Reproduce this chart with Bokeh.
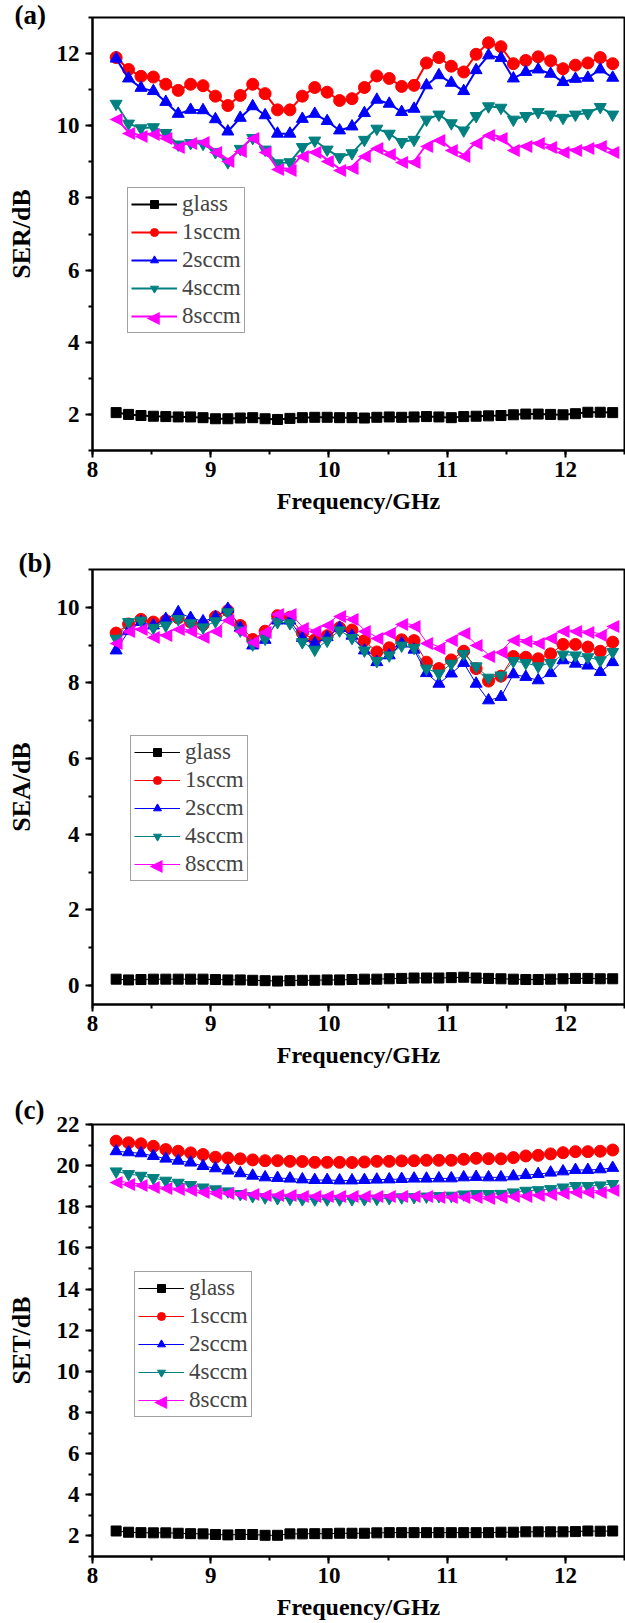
from bokeh.plotting import figure
from bokeh.layouts import column
from bokeh.models import (Legend, LegendItem, SingleIntervalTicker, Range1d,
                          ColumnDataSource, Title)
from bokeh.core.properties import value
from bokeh.embed import file_html
from bokeh.resources import INLINE

freq = [8.2, 8.305, 8.41, 8.515, 8.62, 8.725, 8.83, 8.935, 9.04, 9.145, 9.25,
        9.355, 9.46, 9.565, 9.67, 9.775, 9.88, 9.985, 10.09, 10.195, 10.3,
        10.405, 10.51, 10.615, 10.72, 10.825, 10.93, 11.035, 11.14, 11.245, 11.35,
        11.455, 11.56, 11.665, 11.77, 11.875, 11.98, 12.085, 12.19, 12.295, 12.4]

series_names = ["glass", "1sccm", "2sccm", "4sccm", "8sccm"]

# ---- (a) SE_R ----
ser_glass = [2.05, 2.00, 1.97, 1.95, 1.94, 1.93, 1.93, 1.91, 1.88, 1.88, 1.90,
             1.91, 1.88, 1.86, 1.89, 1.91, 1.92, 1.92, 1.91, 1.91, 1.90,
             1.92, 1.93, 1.92, 1.93, 1.94, 1.93, 1.91, 1.94, 1.95, 1.96,
             1.97, 1.99, 2.01, 2.01, 2.00, 1.99, 2.02, 2.06, 2.06, 2.05]
ser_1 = [11.89, 11.56, 11.37, 11.35, 11.15, 10.98, 11.15, 11.11, 10.82, 10.56, 10.84,
         11.15, 10.89, 10.44, 10.44, 10.82, 11.06, 10.93, 10.70, 10.75, 11.06,
         11.38, 11.31, 11.09, 11.12, 11.74, 11.89, 11.65, 11.49, 11.98, 12.30,
         12.19, 11.72, 11.81, 11.91, 11.80, 11.58, 11.68, 11.74, 11.89, 11.72]
ser_2 = [11.86, 11.31, 11.05, 10.96, 10.66, 10.33, 10.44, 10.43, 10.18, 9.84, 10.22,
         10.54, 10.29, 9.78, 9.78, 10.19, 10.33, 10.13, 9.87, 9.98, 10.35,
         10.72, 10.61, 10.38, 10.47, 11.12, 11.40, 11.19, 10.96, 11.54, 11.95,
         11.88, 11.31, 11.49, 11.56, 11.44, 11.21, 11.30, 11.33, 11.56, 11.33]
ser_4 = [10.61, 10.06, 9.93, 9.96, 9.80, 9.48, 9.52, 9.50, 9.27, 8.99, 9.36,
         9.66, 9.34, 8.96, 8.99, 9.41, 9.59, 9.34, 9.13, 9.24, 9.61,
         9.92, 9.78, 9.55, 9.61, 10.17, 10.31, 10.07, 9.87, 10.27, 10.54,
         10.50, 10.17, 10.27, 10.38, 10.31, 10.22, 10.31, 10.35, 10.52, 10.31]
ser_8 = [10.22, 9.82, 9.73, 9.80, 9.69, 9.43, 9.55, 9.57, 9.31, 9.06, 9.33,
         9.69, 9.31, 8.82, 8.81, 9.20, 9.31, 9.06, 8.81, 8.87, 9.20,
         9.41, 9.24, 9.02, 9.01, 9.48, 9.64, 9.36, 9.20, 9.55, 9.78,
         9.69, 9.36, 9.48, 9.55, 9.45, 9.31, 9.36, 9.41, 9.48, 9.31]

# ---- (b) SE_A ----
sea_glass = [0.17, 0.15, 0.16, 0.17, 0.17, 0.17, 0.17, 0.17, 0.16, 0.15, 0.15,
             0.14, 0.13, 0.12, 0.13, 0.14, 0.14, 0.15, 0.15, 0.16, 0.17,
             0.17, 0.18, 0.19, 0.20, 0.20, 0.20, 0.21, 0.22, 0.20, 0.19,
             0.18, 0.17, 0.16, 0.16, 0.17, 0.18, 0.19, 0.19, 0.18, 0.18]
sea_1 = [9.32, 9.56, 9.68, 9.61, 9.65, 9.72, 9.61, 9.54, 9.75, 9.91, 9.52,
         9.15, 9.37, 9.78, 9.74, 9.32, 9.14, 9.25, 9.46, 9.40, 9.12,
         8.82, 8.93, 9.14, 9.12, 8.55, 8.38, 8.61, 8.84, 8.38, 8.05,
         8.18, 8.70, 8.68, 8.64, 8.77, 9.02, 9.02, 8.95, 8.84, 9.08]
sea_2 = [8.86, 9.37, 9.61, 9.52, 9.69, 9.87, 9.72, 9.63, 9.74, 9.96, 9.46,
         8.99, 9.14, 9.65, 9.65, 9.19, 9.05, 9.21, 9.46, 9.25, 8.86,
         8.55, 8.73, 9.04, 8.88, 8.26, 7.98, 8.25, 8.53, 7.98, 7.54,
         7.63, 8.23, 8.16, 8.07, 8.26, 8.60, 8.51, 8.46, 8.29, 8.55]
sea_4 = [9.17, 9.61, 9.65, 9.46, 9.52, 9.69, 9.58, 9.47, 9.63, 9.87, 9.39,
         9.02, 9.17, 9.61, 9.58, 9.08, 8.88, 9.12, 9.39, 9.19, 8.86,
         8.58, 8.73, 8.99, 8.93, 8.38, 8.25, 8.51, 8.77, 8.44, 8.14,
         8.20, 8.58, 8.53, 8.44, 8.53, 8.75, 8.73, 8.68, 8.60, 8.82]
sea_8 = [9.08, 9.40, 9.46, 9.25, 9.30, 9.46, 9.39, 9.25, 9.40, 9.69, 9.40,
         9.11, 9.37, 9.84, 9.84, 9.49, 9.39, 9.56, 9.81, 9.72, 9.40,
         9.21, 9.34, 9.58, 9.54, 9.08, 8.96, 9.17, 9.34, 9.02, 8.75,
         8.84, 9.17, 9.14, 9.08, 9.21, 9.40, 9.39, 9.37, 9.30, 9.52]

# ---- (c) SE_T ----
set_glass = [2.24, 2.18, 2.16, 2.15, 2.15, 2.13, 2.11, 2.10, 2.07, 2.05, 2.07,
             2.07, 2.03, 2.03, 2.10, 2.10, 2.11, 2.11, 2.13, 2.13, 2.13,
             2.15, 2.16, 2.16, 2.16, 2.16, 2.16, 2.16, 2.16, 2.16, 2.16,
             2.18, 2.18, 2.20, 2.20, 2.20, 2.20, 2.21, 2.24, 2.23, 2.24]
set_1 = [21.19, 21.11, 21.06, 20.94, 20.78, 20.70, 20.62, 20.54, 20.41, 20.37, 20.33,
         20.28, 20.24, 20.24, 20.21, 20.20, 20.16, 20.16, 20.16, 20.15, 20.18,
         20.21, 20.21, 20.23, 20.24, 20.26, 20.26, 20.26, 20.31, 20.36, 20.34,
         20.33, 20.39, 20.47, 20.50, 20.57, 20.63, 20.68, 20.68, 20.70, 20.76]
set_2 = [20.70, 20.65, 20.60, 20.47, 20.34, 20.24, 20.15, 19.98, 19.87, 19.76, 19.63,
         19.51, 19.43, 19.40, 19.37, 19.33, 19.30, 19.30, 19.28, 19.28, 19.30,
         19.32, 19.33, 19.35, 19.37, 19.37, 19.38, 19.38, 19.43, 19.45, 19.43,
         19.43, 19.48, 19.54, 19.59, 19.66, 19.72, 19.79, 19.79, 19.82, 19.89]
set_4 = [19.72, 19.59, 19.51, 19.40, 19.27, 19.17, 19.06, 18.94, 18.85, 18.75, 18.62,
         18.52, 18.46, 18.42, 18.39, 18.37, 18.36, 18.36, 18.36, 18.37, 18.37,
         18.39, 18.42, 18.46, 18.47, 18.50, 18.52, 18.54, 18.60, 18.62, 18.62,
         18.63, 18.70, 18.78, 18.81, 18.86, 18.94, 19.01, 19.01, 19.04, 19.11]
set_8 = [19.27, 19.17, 19.11, 19.01, 18.94, 18.89, 18.85, 18.78, 18.73, 18.72, 18.68,
         18.65, 18.62, 18.62, 18.60, 18.59, 18.57, 18.57, 18.55, 18.55, 18.55,
         18.57, 18.57, 18.57, 18.57, 18.55, 18.54, 18.52, 18.52, 18.54, 18.49,
         18.52, 18.55, 18.59, 18.62, 18.67, 18.72, 18.75, 18.78, 18.78, 18.85]

COLORS = ["black", "#FF0000", "#0000FF", "#008080", "#FF00FF"]
MARKERS = ["square", "circle", "triangle", "inverted_triangle", None]
SIZES = [10, 12, 12, 12, 12]
LEFT_TRI = "\u25C0"
TRI_FONT = "DejaVu Sans"
TRI_SIZE = "17px"
SERIF = "Liberation Serif"
XR = (8, 12.5)


def make_panel(series, ylab, letter, yr, height, left, top, bottom, legend_loc,
               line_w, letter_offset, letter_standoff):
    p = figure(width=625, height=height, x_range=Range1d(*XR),
               y_range=Range1d(*yr), output_backend="svg", toolbar_location=None,
               min_border_left=left, min_border_right=1, min_border_top=top,
               min_border_bottom=bottom, background_fill_color="white",
               border_fill_color="white")
    p.xgrid.visible = False
    p.ygrid.visible = False
    p.outline_line_color = "black"
    p.outline_line_width = 2
    p.xaxis.ticker = SingleIntervalTicker(interval=1, num_minor_ticks=2)
    p.yaxis.ticker = SingleIntervalTicker(interval=2, num_minor_ticks=2)
    for ax in (p.xaxis[0], p.yaxis[0]):
        ax.axis_line_width = 2
        ax.major_tick_line_width = 2
        ax.minor_tick_line_width = 2
        ax.major_tick_out = 7
        ax.major_tick_in = 0
        ax.minor_tick_out = 4
        ax.minor_tick_in = 0
        ax.major_label_text_font = SERIF
        ax.major_label_text_font_style = "bold"
        ax.major_label_text_font_size = "23px"
        ax.major_label_text_color = "black"
        ax.axis_label_text_font = SERIF
        ax.axis_label_text_font_style = "bold"
        ax.axis_label_text_color = "black"
        ax.major_label_standoff = 6
    p.xaxis.axis_label = "Frequency/GHz"
    p.xaxis.axis_label_text_font_size = "24px"
    p.xaxis.major_label_standoff = 4
    p.xaxis.axis_label_standoff = 8
    p.yaxis.axis_label = ylab
    p.yaxis.axis_label_text_font_size = "26px"
    p.yaxis.axis_label_standoff = 18

    # legend geometry (screen px from the frame's bottom-left corner)
    pad, item_h, glyph_w = 3, 28, 46
    fw = 625 - left - 1
    fh = height - top - bottom
    gx = XR[0] + (legend_loc[0] + pad + glyph_w / 2) * (XR[1] - XR[0]) / fw
    gy = yr[0] + (legend_loc[1] + pad + item_h / 2) * (yr[1] - yr[0]) / fh

    items = []
    for name, ys, c, m, s in zip(series_names, series, COLORS, MARKERS, SIZES):
        src = ColumnDataSource(dict(x=freq, y=ys, t=[LEFT_TRI] * len(freq)))
        lr = p.line("x", "y", source=src, line_color=c, line_width=line_w)
        if m is None:
            p.text("x", "y", text="t", source=src, text_color=c,
                   text_font=value(TRI_FONT), text_font_size=TRI_SIZE,
                   text_align="center", text_baseline="middle")
            # marker of the legend entry, drawn under the transparent legend
            lsrc = ColumnDataSource(dict(x=[gx], y=[gy], t=[LEFT_TRI]))
            p.text("x", "y", text="t", source=lsrc, text_color=c,
                   text_font=value(TRI_FONT), text_font_size=TRI_SIZE,
                   text_align="center", text_baseline="middle")
            items.append(LegendItem(label=name, renderers=[lr]))
        else:
            sr = p.scatter("x", "y", source=src, marker=m, size=s,
                           fill_color=c, line_color=c)
            items.append(LegendItem(label=name, renderers=[lr, sr]))
    leg = Legend(items=items, location=legend_loc, label_text_font=SERIF,
                 label_text_font_size="23px", glyph_width=glyph_w, glyph_height=20,
                 label_height=20, label_standoff=5, spacing=2, padding=pad,
                 margin=0, border_line_color="#444444", border_line_width=1,
                 background_fill_alpha=0)
    p.add_layout(leg)
    t = Title(text=letter, text_font=SERIF, text_font_style="bold",
              text_font_size="27px", align="left", offset=letter_offset,
              text_color="black")
    t.standoff = letter_standoff
    p.add_layout(t, "above")
    return p


pa = make_panel([ser_glass, ser_1, ser_2, ser_4, ser_8], "SER/dB", "(a)", (1, 13),
                540, 91, 17, 90, (35, 117), 2, -78, -24)
pb = make_panel([sea_glass, sea_1, sea_2, sea_4, sea_8], "SEA/dB", "(b)", (-0.5, 11),
                540, 88, 29, 76, (38, 123), 1, -74, -17)
pc = make_panel([set_glass, set_1, set_2, set_4, set_8], "SET/dB", "(c)", (1, 22),
                543, 92, 44, 67, (42, 139), 1, -78, 0)

layout = column(pa, pb, pc, spacing=0)
open("out.html", "w").write(file_html(layout, INLINE))
